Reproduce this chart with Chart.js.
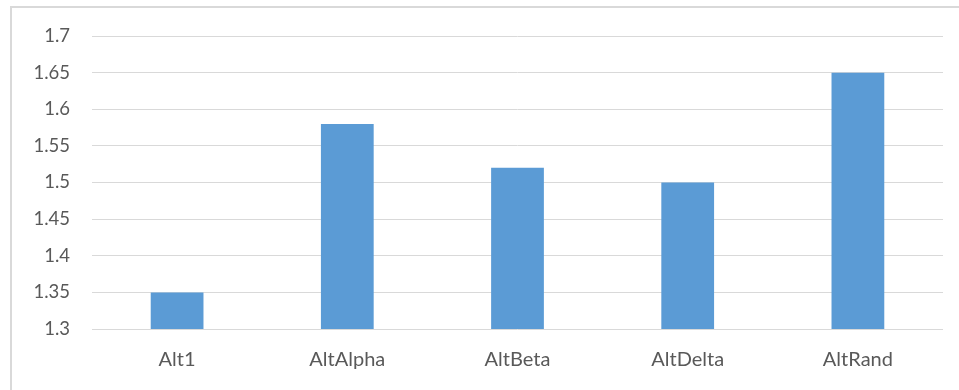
<!DOCTYPE html>
<html>
<head>
<meta charset="utf-8">
<script src="https://cdn.jsdelivr.net/npm/chart.js@4/dist/chart.umd.min.js"></script>
<style>
  html, body { margin: 0; padding: 0; background: #ffffff; }
  #wrap { position: relative; width: 959px; height: 390px; overflow: hidden; }
  #frame {
    position: absolute; left: 10px; top: 6px; width: 1000px; height: 500px;
    border-left: 2px solid #d9d9d9; border-top: 2px solid #d9d9d9; box-sizing: border-box;
  }
  #c { position: absolute; left: 0; top: 0; }
</style>
</head>
<body>
<div id="wrap">
  <div id="frame"></div>
  <canvas id="c" width="959" height="390"></canvas>
</div>
<script>
// Categories and values
const categories = ['Alt1', 'AltAlpha', 'AltBeta', 'AltDelta', 'AltRand'];
const scores = [1.35, 1.58, 1.52, 1.50, 1.65];
const yTicks = [1.3, 1.35, 1.4, 1.45, 1.5, 1.55, 1.6, 1.65, 1.7];

const labelColor = '#595959';
const xFont = { family: 'Lato, "Open Sans", sans-serif', size: 20 };
const yFont = { family: 'Lato, "Open Sans", sans-serif', size: 18.5 };

new Chart(document.getElementById('c'), {
  type: 'bar',
  data: {
    labels: categories,
    datasets: [{
      data: scores,
      backgroundColor: '#5b9bd5',
      borderWidth: 0,
      barPercentage: 0.31,
      categoryPercentage: 1.0
    }]
  },
  options: {
    responsive: false,
    animation: false,
    layout: { padding: { top: 36, right: 16, left: 0, bottom: 0 } },
    plugins: { legend: { display: false }, tooltip: { enabled: false } },
    scales: {
      x: {
        grid: { display: false, drawTicks: false },
        border: { display: false },
        ticks: { color: labelColor, font: xFont, padding: 19, maxRotation: 0 },
        afterFit: (s) => { s.height = 61; }
      },
      y: {
        min: 1.3,
        max: 1.7,
        afterBuildTicks: (s) => { s.ticks = yTicks.map(v => ({ value: v })); },
        grid: { color: '#d9d9d9', lineWidth: 1, drawTicks: false },
        border: { display: false },
        ticks: {
          color: labelColor, font: yFont, padding: 22,
          callback: (v) => String(Math.round(v * 100) / 100)
        },
        afterFit: (s) => { s.width = 92; }
      }
    }
  }
});
</script>
</body>
</html>
